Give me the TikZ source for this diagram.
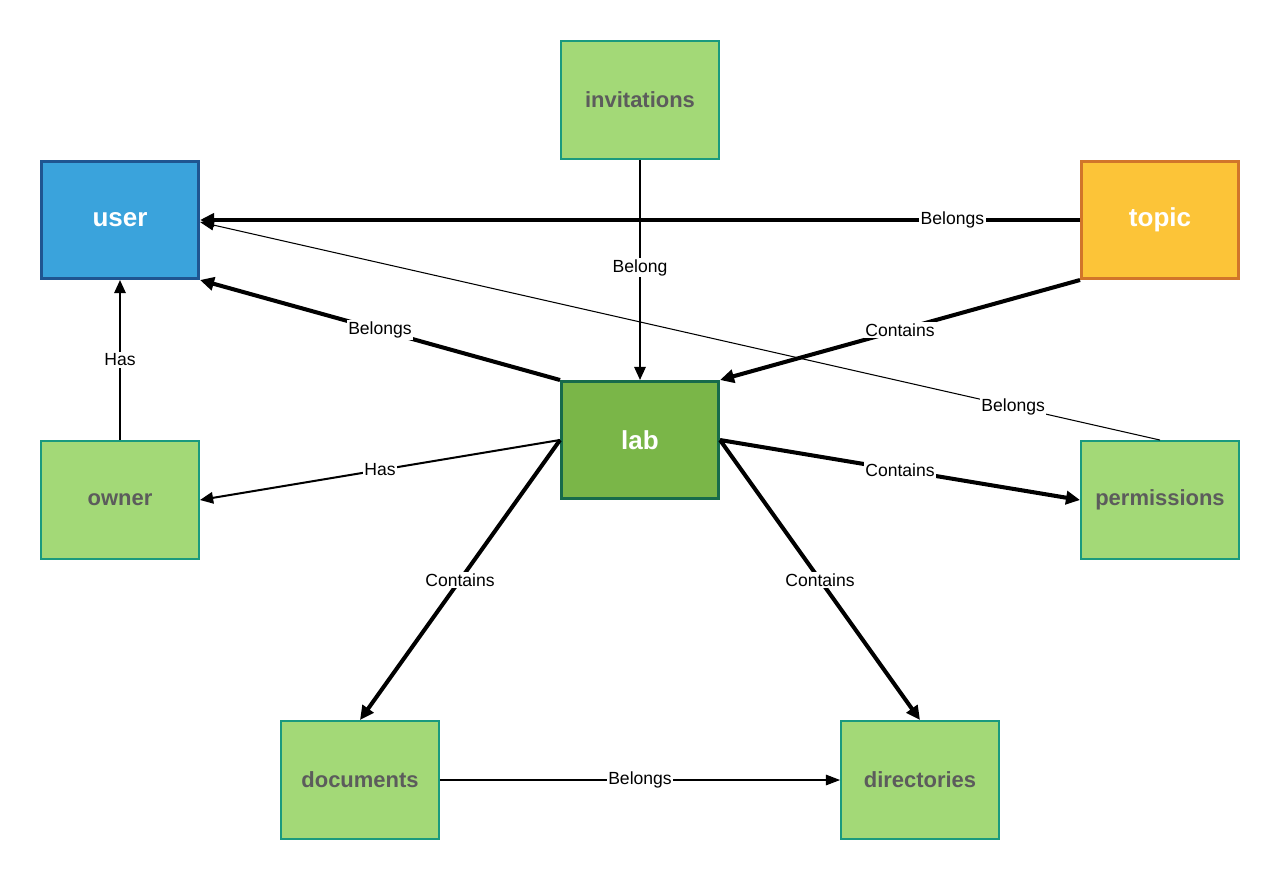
\documentclass[tikz,border=0pt]{standalone}
\usepackage{fontspec}
\setmainfont{Liberation Sans}
\usetikzlibrary{arrows.meta}
\definecolor{userfill}{HTML}{3AA3DC}
\definecolor{userdraw}{HTML}{1F5591}
\definecolor{topicfill}{HTML}{FCC438}
\definecolor{topicdraw}{HTML}{D1752A}
\definecolor{labfill}{HTML}{7AB648}
\definecolor{labdraw}{HTML}{176B4B}
\definecolor{lightfill}{HTML}{A3D977}
\definecolor{lightdraw}{HTML}{1A9A7E}
\definecolor{graytext}{HTML}{5C5C5C}
\newlength{\pxu}
\setlength{\pxu}{0.02cm}
\tikzset{
  box/.style={rectangle, minimum width=158\pxu, minimum height=118\pxu, inner sep=0pt, line width=1.2pt},
  strongbox/.style={box, minimum width=157\pxu, minimum height=117\pxu, line width=1.7pt, text=white, font=\fontsize{14.8}{16}\selectfont\bfseries},
  lightbox/.style={box, fill=lightfill, draw=lightdraw, line width=1.1pt, text=graytext, font=\fontsize{12.5}{14}\selectfont\bfseries},
  lbl/.style={fill=white, inner sep=0.8pt, text=black, font=\fontsize{10}{12}\selectfont},
  heavy/.style={line width=2.3pt, -{Triangle[length=8pt,width=7.5pt]}},
  medium/.style={line width=1.15pt, -{Triangle[length=7.5pt,width=6.5pt]}},
  light/.style={line width=0.6pt, -{Triangle[length=8pt,width=6pt]}},
}
\begin{document}
\begin{tikzpicture}[x=0.02cm, y=-0.02cm]
\useasboundingbox (0,0) rectangle (1280,880);
\node[strongbox, fill=userfill, draw=userdraw] (user) at (120,220) {user};
\node[strongbox, fill=topicfill, draw=topicdraw] (topic) at (1160,220) {topic};
\node[strongbox, fill=labfill, draw=labdraw] (lab) at (640,440) {lab};
\node[lightbox] (inv) at (640,100) {invitations};
\node[lightbox] (owner) at (120,500) {owner};
\node[lightbox] (perm) at (1160,500) {permissions};
\node[lightbox] (docs) at (360,780) {documents};
\node[lightbox] (dirs) at (920,780) {directories};

\draw[light] (perm.north) -- node[lbl, pos=0.153] {Belongs} ([yshift=-2\pxu]user.east);
\draw[heavy] (topic.west) -- node[lbl, pos=0.145] {Belongs} (user.east);
\draw[medium] (inv.south) -- node[lbl, pos=0.49] {Belong} (lab.north);
\draw[heavy] (lab.north west) -- node[lbl] {Belongs} (user.south east);
\draw[heavy] (topic.south west) -- node[lbl] {Contains} (lab.north east);
\draw[medium] (owner.north) -- node[lbl] {Has} (user.south);
\draw[medium] (lab.west) -- node[lbl] {Has} (owner.east);
\draw[heavy] (lab.east) -- node[lbl] {Contains} (perm.west);
\draw[heavy] (lab.west) -- node[lbl] {Contains} (docs.north);
\draw[heavy] (lab.east) -- node[lbl] {Contains} (dirs.north);
\draw[light] (docs.east) -- node[lbl] {Belongs} (dirs.west);
\end{tikzpicture}
\end{document}
